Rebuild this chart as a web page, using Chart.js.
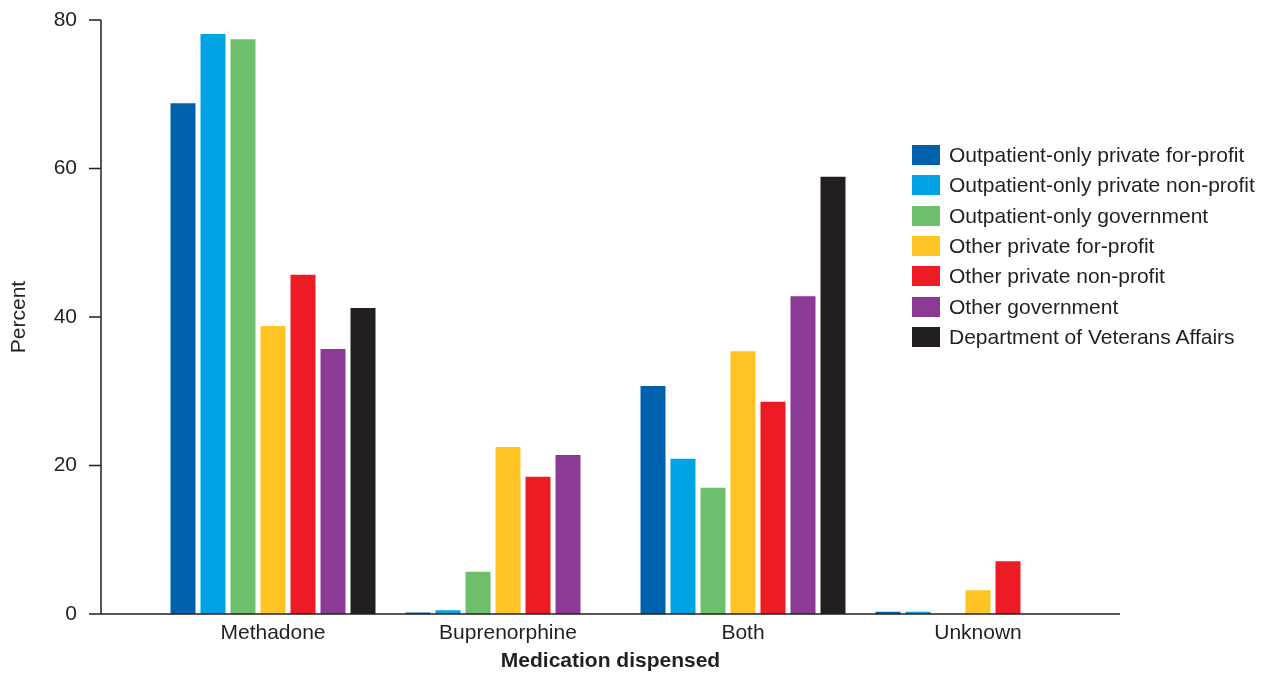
<!DOCTYPE html>
<html>
<head>
<meta charset="utf-8">
<script src="https://cdn.jsdelivr.net/npm/chart.js@4"></script>
<style>
  body { margin: 0; background: #fff; }
  #wrap { position: relative; width: 1271px; height: 675px; }
  #legend { position: absolute; left: 912px; top: 140px; font-family: "Liberation Sans", Arial, sans-serif; font-size: 21px; color: #231f20; }
  .item { display: flex; align-items: center; height: 30.3px; white-space: nowrap; }
  .box { width: 28px; height: 20px; margin-right: 9px; flex: none; }
</style>
</head>
<body>
<div id="wrap">
  <canvas id="medChart" width="1271" height="675"></canvas>
  <div id="legend"></div>
</div>
<script>
let categories = ["Methadone", "Buprenorphine", "Both", "Unknown"]
let yTicks = [0, 20, 40, 60, 80]

let seriesNames = [
  "Outpatient-only private for-profit",
  "Outpatient-only private non-profit",
  "Outpatient-only government",
  "Other private for-profit",
  "Other private non-profit",
  "Other government",
  "Department of Veterans Affairs"
]
let seriesColors = ["#0062ac", "#00a3e4", "#6ebf6b", "#ffc423", "#ed1c24", "#8b3a96", "#231f20"]

let opForProfit = [68.8, 0.2, 30.7, 0.3]
let opNonProfit = [78.1, 0.5, 20.9, 0.3]
let opGovernment = [77.4, 5.7, 17.0, 0]
let otherForProfit = [38.8, 22.5, 35.4, 3.2]
let otherNonProfit = [45.7, 18.5, 28.6, 7.1]
let otherGovernment = [35.7, 21.4, 42.8, 0]
let veterans = [41.2, 0, 58.9, 0]

let seriesValues = [opForProfit, opNonProfit, opGovernment, otherForProfit, otherNonProfit, otherGovernment, veterans]

const ink = "#231f20"
const fontFamily = '"Liberation Sans", Arial, sans-serif'

// axis lines sit wider than the bar area, so they are drawn here
const axisFrame = {
  id: "axisFrame",
  afterDatasetsDraw(chart) {
    const ctx = chart.ctx
    const y = chart.scales.y
    const left = 101
    const right = 1120
    const zero = y.getPixelForValue(0)
    const top = y.getPixelForValue(80)
    ctx.save()
    ctx.strokeStyle = ink
    ctx.lineWidth = 1.5
    ctx.beginPath()
    ctx.moveTo(left, top)
    ctx.lineTo(left, zero)
    ctx.lineTo(right, zero)
    yTicks.forEach((t) => {
      const p = y.getPixelForValue(t)
      ctx.moveTo(89, p)
      ctx.lineTo(left, p)
    })
    ctx.stroke()
    ctx.fillStyle = ink
    ctx.font = "bold 21px " + fontFamily
    ctx.textAlign = "center"
    ctx.textBaseline = "middle"
    ctx.fillText("Medication dispensed", (left + right) / 2, 661)
    ctx.restore()
  }
}

const datasets = seriesNames.map((name, i) => {
  return {
    label: name,
    data: seriesValues[i],
    backgroundColor: seriesColors[i],
    borderWidth: 0,
    barPercentage: 25 / 30,
    categoryPercentage: 210 / 235
  }
})

Chart.defaults.font.family = fontFamily
Chart.defaults.font.size = 21
Chart.defaults.color = ink

const chart = new Chart(document.getElementById("medChart"), {
  type: "bar",
  data: { labels: categories, datasets },
  options: {
    responsive: false,
    animation: false,
    layout: { padding: { top: 20, right: 175.5, bottom: 0, left: 0 } },
    plugins: { legend: { display: false }, tooltip: { enabled: false } },
    scales: {
      x: {
        grid: { display: false, drawTicks: false },
        border: { display: false },
        ticks: { padding: 7 },
        afterFit(scale) { scale.height = 61 }
      },
      y: {
        min: 0,
        max: 80,
        afterBuildTicks(scale) { scale.ticks = yTicks.map((v) => ({ value: v })) },
        grid: { display: false, drawTicks: false },
        border: { display: false },
        ticks: { padding: 78.5 },
        title: { display: true, text: "Percent", padding: { top: 7, bottom: 0 } },
        afterFit(scale) {
          scale.width = 155.5
          scale.paddingTop = 10
          scale.paddingBottom = 10
        }
      }
    }
  },
  plugins: [axisFrame]
})

const legend = document.getElementById("legend")
chart.data.datasets.forEach((ds) => {
  const row = document.createElement("div")
  row.className = "item"
  const box = document.createElement("span")
  box.className = "box"
  box.style.background = ds.backgroundColor
  const txt = document.createElement("span")
  txt.textContent = ds.label
  row.appendChild(box)
  row.appendChild(txt)
  legend.appendChild(row)
})
</script>
</body>
</html>
